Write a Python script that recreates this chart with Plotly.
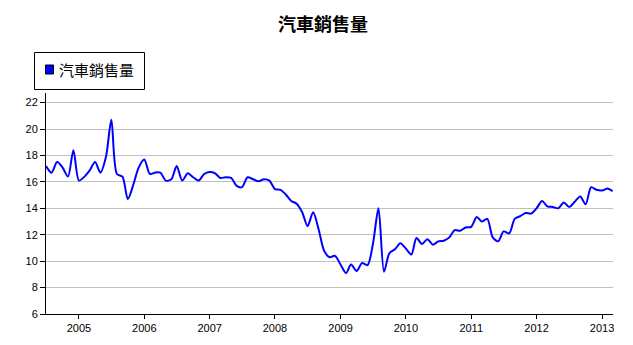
import pandas as pd
import plotly.graph_objects as go

# Monthly car sales, Jul 2004 - Mar 2013
months = pd.date_range("2004-07-01", "2013-03-01", freq="MS")
sales = [
    17.2, 16.7, 17.5, 17.1, 16.4, 18.4,                                  # 2004 H2
    16.1, 16.4, 16.85, 17.5, 16.7, 17.9, 20.7, 16.6, 16.4, 14.7, 15.8, 17.1,  # 2005
    17.7, 16.6, 16.7, 16.7, 16.1, 16.2, 17.2, 16.1, 16.65, 16.35, 16.1, 16.6,  # 2006
    16.75, 16.65, 16.3, 16.35, 16.3, 15.7, 15.6, 16.35, 16.2, 16.05, 16.2, 16.1,  # 2007
    15.45, 15.4, 15.05, 14.55, 14.35, 13.7, 12.65, 13.7, 12.4, 10.8, 10.3, 10.4,  # 2008
    9.75, 9.1, 9.75, 9.25, 9.85, 9.7, 11.3, 14.0, 9.2, 10.6, 10.9, 11.35,  # 2009
    10.95, 10.5, 11.75, 11.3, 11.65, 11.25, 11.5, 11.55, 11.8, 12.35, 12.3, 12.55,  # 2010
    12.6, 13.35, 13.0, 13.2, 11.8, 11.5, 12.25, 12.1, 13.2, 13.4, 13.65, 13.6,  # 2011
    14.0, 14.55, 14.15, 14.1, 14.0, 14.45, 14.1, 14.5, 14.9, 14.3, 15.6, 15.4,  # 2012
    15.35, 15.5, 15.3,                                                    # 2013
]
series_name = "汽車銷售量"
year_ticks = [f"{y}-01-01" for y in range(2005, 2014)]
year_labels = [str(y) for y in range(2005, 2014)]
y_ticks = list(range(6, 23, 2))

W, H = 633, 345
L, R, T, B = 46, 20, 93, 31
pw, ph = W - L - R, H - T - B

def px_x(x):
    return (x - L) / pw

def px_y(y):
    return (H - B - y) / ph

cjk = "Noto Sans CJK TC, Noto Sans CJK SC, sans-serif"

fig = go.Figure()
fig.add_trace(go.Scatter(
    x=months, y=sales, mode="lines", name=series_name,
    line=dict(color="#0000FF", width=2, shape="spline", smoothing=0.8),
    showlegend=False,
))

fig.update_layout(
    width=W, height=H,
    margin=dict(l=L, r=R, t=T, b=B),
    paper_bgcolor="white", plot_bgcolor="white",
    font=dict(family="Liberation Sans, Arial, sans-serif", size=11, color="black"),
    xaxis=dict(
        range=["2004-07-01", "2013-03-03"],
        tickvals=year_ticks, ticktext=year_labels,
        showgrid=False, showline=True, linecolor="black", linewidth=1,
        ticks="outside", ticklen=4, tickcolor="black", zeroline=False,
    ),
    yaxis=dict(
        range=[6, 22.73], tickvals=y_ticks,
        showgrid=True, gridcolor="#c0c0c0", gridwidth=1,
        showline=True, linecolor="black", linewidth=1,
        ticks="outside", ticklen=5, tickcolor="black", zeroline=False,
    ),
    shapes=[
        dict(type="rect", xref="paper", yref="paper",
             x0=px_x(34.5), x1=px_x(144.5), y0=px_y(89.5), y1=px_y(52.5),
             line=dict(color="black", width=1), fillcolor="white"),
        dict(type="rect", xref="paper", yref="paper",
             x0=px_x(45.5), x1=px_x(53.5), y0=px_y(74), y1=px_y(65),
             line=dict(color="black", width=1), fillcolor="#0000FF"),
    ],
    annotations=[
        dict(text="<b>汽車銷售量</b>", xref="paper", yref="paper",
             x=px_x(323), y=px_y(23), xanchor="center", yanchor="middle",
             showarrow=False, font=dict(family=cjk, size=18, color="black")),
        dict(text=series_name, xref="paper", yref="paper",
             x=px_x(57), y=px_y(69.5), xanchor="left", yanchor="middle",
             showarrow=False, font=dict(family=cjk, size=15, color="black")),
    ],
)

fig.write_html("out.html")
